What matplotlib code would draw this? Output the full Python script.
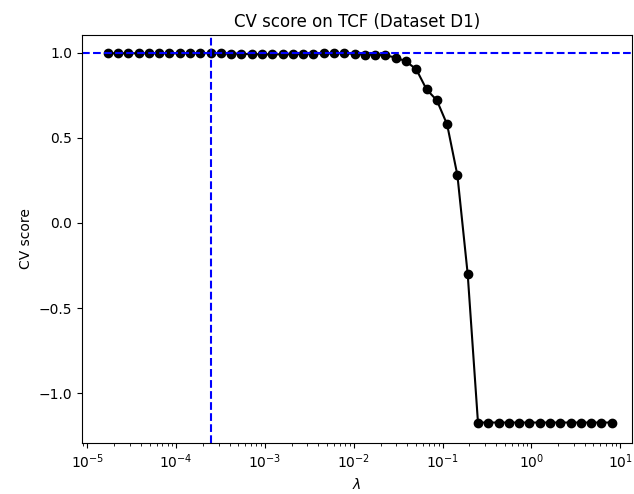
import numpy as np
import matplotlib
matplotlib.use("Agg")
import matplotlib.pyplot as plt

# regularisation path (log-spaced lambdas) and cross-validated scores
log_lambda_min = -4.772
log_lambda_max = 0.905
n_lambdas = 50
lambdas = np.logspace(log_lambda_min, log_lambda_max, n_lambdas)

cv_scores = [
    0.996, 0.996, 0.996, 0.996, 0.996, 0.996, 0.996, 0.996, 0.996, 0.996,
    0.998, 0.995, 0.994, 0.993, 0.991, 0.990, 0.990, 0.990, 0.991, 0.992,
    0.994, 0.995, 0.996, 0.997, 0.992, 0.988, 0.987, 0.984, 0.971, 0.949,
    0.902, 0.784, 0.720, 0.578, 0.280, -0.300, -1.172, -1.172, -1.172, -1.172,
    -1.172, -1.172, -1.172, -1.172, -1.172, -1.172, -1.172, -1.172, -1.172, -1.172,
]

best = int(np.argmax(cv_scores))

fig = plt.figure(figsize=(6.34, 4.94), dpi=100)
ax = fig.add_axes([0.129, 0.104, 0.868, 0.825])
ax.plot(lambdas, cv_scores, "ko-")
ax.axvline(lambdas[best], color="b", ls="--")
ax.axhline(cv_scores[best], color="b", ls="--")
ax.set_xscale("log")
ax.set_xlim(10 ** -5.064, 10 ** 1.135)
ax.set_ylim(-1.29, 1.103)
ax.set_xlabel(r"$\lambda$")
ax.set_ylabel("CV score")
ax.set_title("CV score on TCF (Dataset D1)")

fig.savefig("out.png", dpi=100)
